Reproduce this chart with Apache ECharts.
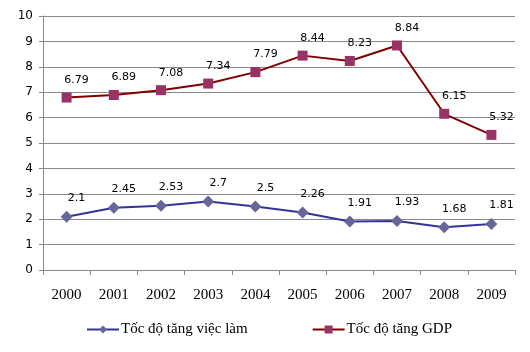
<!DOCTYPE html>
<html>
	<head>
		<meta charset="utf-8">
		<title></title>
		<script src="https://cdn.jsdelivr.net/npm/echarts@6/dist/echarts.min.js"></script>
		<style>
			body { margin: 0; background: #fff; }
			#main { width: 530px; height: 352px; }
		</style>
	</head>
	<body>
		<div id="main"></div>
	</body>
	<script>
		var years = ["2000", "2001", "2002", "2003", "2004", "2005", "2006", "2007", "2008", "2009"];
		var viecLam = [2.1, 2.45, 2.53, 2.7, 2.5, 2.26, 1.91, 1.93, 1.68, 1.81];
		var gdp = [6.79, 6.89, 7.08, 7.34, 7.79, 8.44, 8.23, 8.84, 6.15, 5.32];
		var names = ["Tốc độ tăng việc làm", "Tốc độ tăng GDP"];

		var numLabel = {
			show: true,
			position: 'top',
			distance: 7,
			offset: [10, 0],
			fontFamily: 'DejaVu Sans',
			fontSize: 11,
			color: '#000'
		};

		var option = {
			animation: false,
			grid: { left: 43, right: 15, top: 16, bottom: 82 },
			legend: {
				bottom: 10,
				left: 81,
				itemWidth: 32,
				itemHeight: 10,
				itemGap: 64,
				textStyle: { fontFamily: 'Liberation Serif', fontSize: 15, color: '#000', padding: [0, 0, 0, -3] },
				data: names
			},
			xAxis: {
				type: 'category',
				data: years,
				boundaryGap: true,
				axisLine: { lineStyle: { color: '#888' } },
				axisTick: { show: true, length: 5, lineStyle: { color: '#888' } },
				axisLabel: { fontFamily: 'Liberation Serif', fontSize: 15, color: '#000', margin: 18 }
			},
			yAxis: {
				type: 'value',
				min: 0,
				max: 10,
				interval: 1,
				axisLine: { show: true, lineStyle: { color: '#888' } },
				axisTick: { show: true, length: 4, lineStyle: { color: '#888' } },
				splitLine: { lineStyle: { color: '#888' } },
				axisLabel: { fontFamily: 'DejaVu Sans', fontSize: 12, color: '#000', margin: 10 }
			},
			series: [
				{
					name: names[0],
					type: 'line',
					data: viecLam,
					symbol: 'diamond',
					symbolSize: 12,
					lineStyle: { color: '#333399', width: 2 },
					itemStyle: { color: '#666699' },
					label: numLabel
				},
				{
					name: names[1],
					type: 'line',
					data: gdp,
					symbol: 'rect',
					symbolSize: 10,
					lineStyle: { color: '#800000', width: 2 },
					itemStyle: { color: '#993366' },
					label: numLabel
				}
			]
		};

		var chart = echarts.init(document.getElementById("main"));
		chart.setOption(option);
	</script>
</html>
